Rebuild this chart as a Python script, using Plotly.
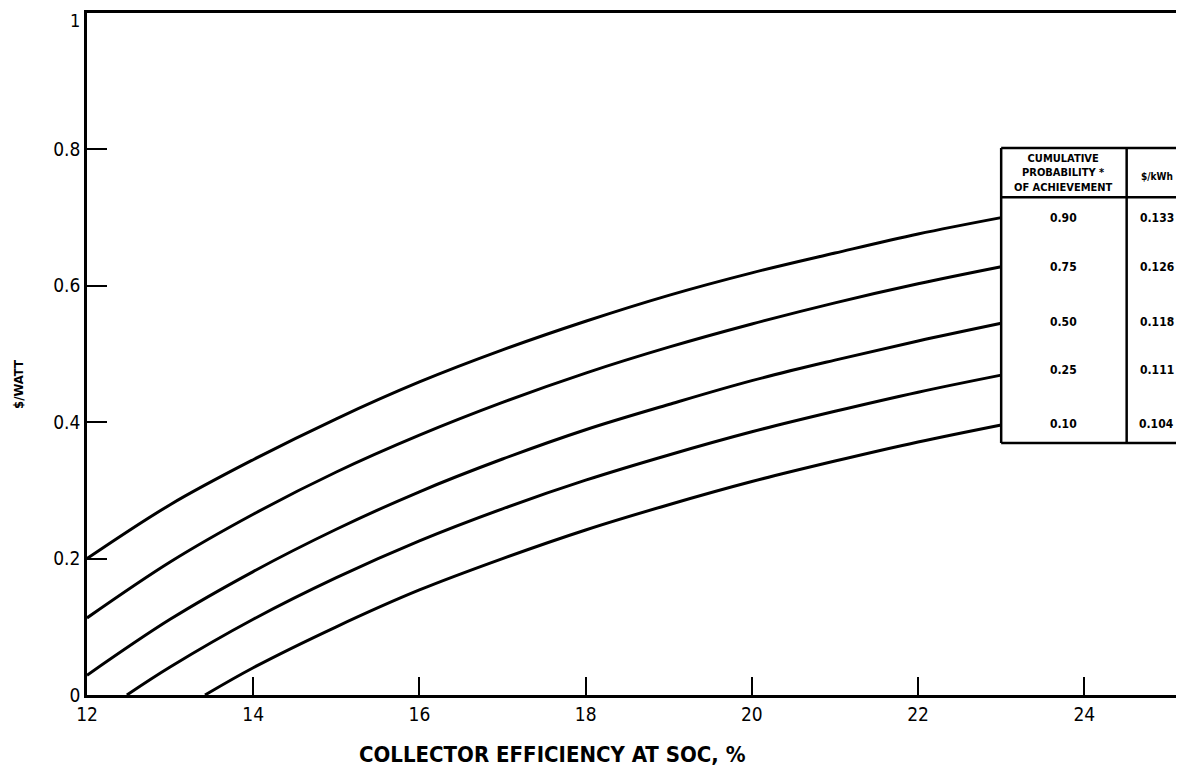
import plotly.graph_objects as go

# Collector efficiency (%) sample points and $/W curves
x_full = [12, 13, 14, 15, 16, 17, 18, 19, 20, 21, 22, 23]
p90 = [0.200, 0.279, 0.345, 0.405, 0.459, 0.506, 0.548, 0.586, 0.619, 0.648, 0.676, 0.700]
p75 = [0.113, 0.195, 0.265, 0.327, 0.381, 0.429, 0.472, 0.510, 0.544, 0.575, 0.603, 0.628]
p50 = [0.029, 0.111, 0.181, 0.243, 0.298, 0.346, 0.389, 0.426, 0.461, 0.491, 0.519, 0.545]
x_p25 = [12.48, 13, 14, 15, 16, 17, 18, 19, 20, 21, 22, 23]
p25 = [0.000, 0.041, 0.111, 0.172, 0.226, 0.273, 0.315, 0.352, 0.386, 0.416, 0.444, 0.469]
x_p10 = [13.42, 14, 15, 16, 17, 18, 19, 20, 21, 22, 23]
p10 = [0.000, 0.040, 0.100, 0.154, 0.200, 0.242, 0.279, 0.313, 0.343, 0.371, 0.396]

prob_labels = ["0.90", "0.75", "0.50", "0.25", "0.10"]
kwh_labels = ["0.133", "0.126", "0.118", "0.111", "0.104"]
row_y = [0.699, 0.628, 0.547, 0.476, 0.398]

x_ticks = [12, 14, 16, 18, 20, 22, 24]
y_ticks = [0, 0.2, 0.4, 0.6, 0.8, 1]
y_tick_text = ["0", "0.2", "0.4", "0.6", "0.8", ""]
top_label = "1"

FONT = "DejaVu Sans Condensed, Liberation Sans Narrow, Arial Narrow, sans-serif"

fig = go.Figure()
series = [(x_full, p90), (x_full, p75), (x_full, p50), (x_p25, p25), (x_p10, p10)]
for xs, ys in series:
    fig.add_trace(go.Scatter(x=xs, y=ys, mode="lines",
                             line=dict(color="black", width=3, shape="spline"),
                             showlegend=False, hoverinfo="skip"))

# Table geometry (data coordinates)
tx0, tdiv, tx1 = 23.0, 24.51, 25.6
ty_top, ty_head, ty_bot = 0.802, 0.730, 0.3695
line = dict(color="black", width=2.5)
shapes = [
    dict(type="line", x0=tx0, x1=tx1, y0=ty_top, y1=ty_top, line=line),
    dict(type="line", x0=tx0, x1=tx1, y0=ty_head, y1=ty_head, line=line),
    dict(type="line", x0=tx0, x1=tx1, y0=ty_bot, y1=ty_bot, line=line),
    dict(type="line", x0=tx0, x1=tx0, y0=ty_bot, y1=ty_top, line=line),
    dict(type="line", x0=tdiv, x1=tdiv, y0=ty_bot, y1=ty_top, line=line),
]
for s in shapes:
    s.update(xref="x", yref="y", layer="above")

annotations = []
col1 = (tx0 + tdiv) / 2
col2 = 24.87
annotations.append(dict(x=col1, y=(ty_top + ty_head) / 2, xref="x", yref="y",
                        text="<b>CUMULATIVE<br>PROBABILITY *<br>OF ACHIEVEMENT</b>",
                        showarrow=False, font=dict(family=FONT, size=11, color="black"),
                        align="center"))
annotations.append(dict(x=col2, y=(ty_top + ty_head) / 2 - 0.005, xref="x", yref="y",
                        text="<b>$/kWh</b>", showarrow=False,
                        font=dict(family=FONT, size=10, color="black")))
for yv, a, b in zip(row_y, prob_labels, kwh_labels):
    annotations.append(dict(x=col1, y=yv, xref="x", yref="y", text="<b>" + a + "</b>",
                            showarrow=False, font=dict(family=FONT, size=12, color="black")))
    annotations.append(dict(x=col2, y=yv, xref="x", yref="y", text="<b>" + b + "</b>",
                            showarrow=False, font=dict(family=FONT, size=12, color="black")))

# axis titles positioned relative to the plot area
annotations.append(dict(x=(552 - 87) / 1097, y=-(754 - 695) / 682, xref="paper", yref="paper",
                        text="<b>COLLECTOR EFFICIENCY AT SOC, %</b>", showarrow=False,
                        xanchor="center", yanchor="middle",
                        font=dict(family=FONT, size=22, color="black")))
annotations.append(dict(x=-(87 - 18) / 1097, y=(695 - 385) / 682, xref="paper", yref="paper",
                        text="<b>$/WATT</b>", textangle=-90, showarrow=False,
                        xanchor="center", yanchor="middle",
                        font=dict(family=FONT, size=13, color="black")))
# top tick label "1" placed just below the top border
annotations.append(dict(x=-(87 - 82) / 1097, y=1, xref="paper", yref="paper",
                        text=top_label, showarrow=False, xanchor="right", yanchor="top",
                        yshift=5, font=dict(family=FONT, size=18, color="black")))

fig.update_layout(
    width=1176, height=761,
    margin=dict(l=79, r=0, t=5, b=74),
    plot_bgcolor="white", paper_bgcolor="white",
    shapes=shapes, annotations=annotations,
    font=dict(family=FONT, size=19, color="black"),
)

fig.update_xaxes(range=[12, 25.2], tickvals=x_ticks, ticks="inside", ticklen=18, tickwidth=2,
                 tickcolor="black", showline=True, linecolor="black", linewidth=2.5, mirror=True,
                 showgrid=False, zeroline=False, tickfont=dict(family=FONT, size=19, color="black"))
fig.update_yaxes(range=[0, 1], tickvals=y_ticks, ticktext=y_tick_text, ticks="inside", ticklen=20,
                 tickwidth=2, tickcolor="black", showline=True, linecolor="black", linewidth=2.5,
                 showgrid=False, zeroline=False, tickfont=dict(family=FONT, size=19, color="black"))

fig.write_html("out.html")
